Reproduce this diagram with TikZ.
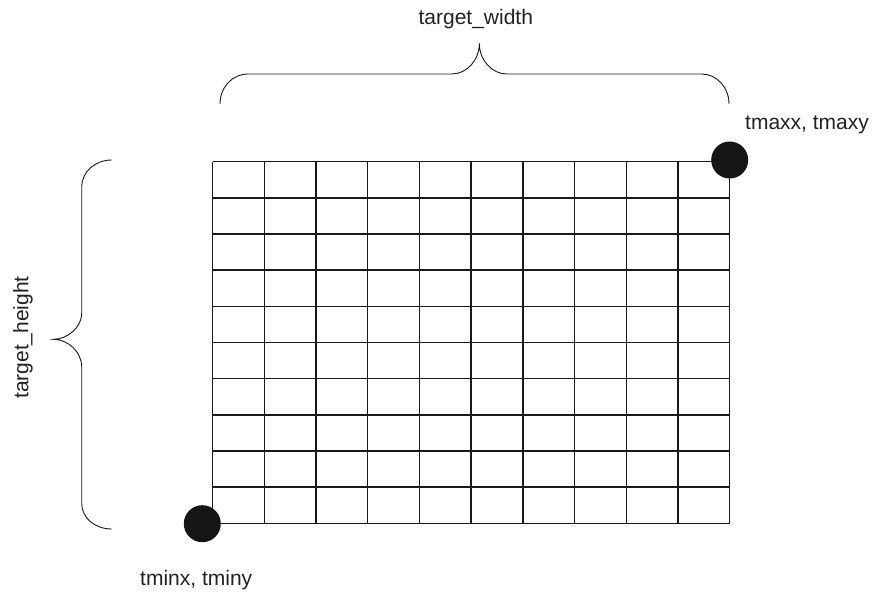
\documentclass[tikz,border=0pt]{standalone}
\usepackage{fontspec}
\setmainfont{Liberation Sans}
\definecolor{ink}{HTML}{1A1A1A}
\definecolor{dotc}{HTML}{151515}
\definecolor{txt}{HTML}{222222}
\begin{document}
\begin{tikzpicture}[x=1pt,y=-1pt,
  gridline/.style={line width=1.4pt, draw=ink},
  bracestyle/.style={line width=0.9pt, draw=ink},
  dot/.style={circle, fill=dotc, minimum size=37pt, inner sep=0pt},
  lbl/.style={text=txt, inner sep=0pt, font=\fontsize{21}{25}\selectfont}]
\useasboundingbox (0,0) rectangle (875,593);
% grid
\foreach \i in {0,...,10} {
  \draw[gridline] ({212.5+51.72*\i},161.7) -- ({212.5+51.72*\i},523.3);
  \draw[gridline] (212.5,{161.7+36.16*\i}) -- (729.7,{161.7+36.16*\i});
}
% dots
\node[dot] (tmax) at (729.7,160) {};
\node[dot] (tmin) at (202.3,523.7) {};
% labels
\node[lbl, anchor=base west] (tmaxlbl) at (745,130) {tmaxx, tmaxy};
\node[lbl, anchor=base west] (tminlbl) at (140,585) {tminx, tminy};
\node[lbl, anchor=base] (wlbl) at (475.8,25) {target\_width};
\node[lbl, rotate=90] (hlbl) at (23,337.5) {target\_height};
% top brace
\draw[bracestyle] (220,104) .. controls (220,87) and (232.5,74) .. (248,74)
  -- (451.7,74) .. controls (467,74) and (479.3,60) .. (479.3,43.5)
  .. controls (479.3,60) and (492,74) .. (506.7,74)
  -- (701.4,74) .. controls (716.5,74) and (729,87) .. (729,104);
% left brace
\draw[bracestyle] (111.7,160) .. controls (95,160) and (81.7,172) .. (81.7,186.7)
  -- (81.7,313.3) .. controls (81.7,327) and (68,339.3) .. (53.3,339.3)
  .. controls (68,339.3) and (81.7,352) .. (81.7,366.7)
  -- (81.7,503.3) .. controls (81.7,518) and (95,529) .. (111.7,529);
\end{tikzpicture}
\end{document}
